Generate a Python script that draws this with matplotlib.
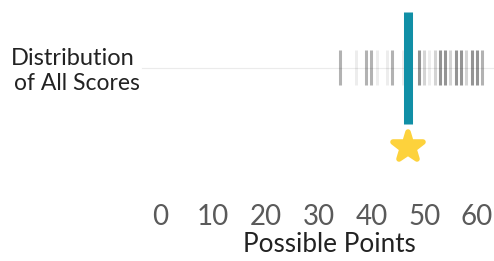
import matplotlib
matplotlib.use("Agg")
import matplotlib.pyplot as plt
from matplotlib.markers import MarkerStyle

# ---- data ----
scores = [34, 37, 39, 40, 41, 43, 44, 46, 49, 50, 51, 52, 53, 54, 55, 56, 57, 58, 59, 60, 61]
counts = [3, 1, 3, 3, 1, 1, 3, 1, 4, 2, 1, 2, 4, 4, 2, 4, 4, 2, 4, 4, 3]
my_score = 47
tick_values = [0, 10, 20, 30, 40, 50, 60]
row_label = ["Distribution", "of All Scores"]
x_label = "Possible Points"

plt.rcParams['font.family'] = ['Lato', 'DejaVu Sans']

W, H = 494, 261
fig = plt.figure(figsize=(W / 100, H / 100), dpi=100)
ax_bottom_px = 198
ax = fig.add_axes([0, (H - ax_bottom_px) / H, 1, ax_bottom_px / H])
ax.set_xlim(-30.47, 63.26)
ax.set_ylim(ax_bottom_px, 0)
for s in ax.spines.values():
    s.set_visible(False)
ax.set_yticks([])
ax.set_xticks(tick_values)
ax.set_xticklabels([str(v) for v in tick_values])
ax.tick_params(axis='x', length=0, pad=4, labelsize=20, labelcolor='#5a5a5a')

# baseline row line
ax.axhline(68, xmin=142 / W, xmax=1, color='#ebebeb', lw=0.8, zorder=0)

# distribution bars
alpha_map = {1: 0.07, 2: 0.17, 3: 0.30, 4: 0.42}
cols = [(0, 0, 0, alpha_map[c]) for c in counts]
ax.vlines(scores, 50, 85, colors=cols, lw=2.2, zorder=1)

# highlighted score
ax.vlines([my_score], 12, 124, colors='#118fa6', lw=6.5, zorder=2)
star = MarkerStyle('*', joinstyle='round')
ax.plot([my_score], [147], marker=star, ms=22, color='#fdd23c',
        mec='#fdd23c', mew=4, linestyle='none', zorder=3)

# row label
fig.text(73 / W, 1 - 58.5 / H, row_label[0], ha='center', va='center',
         fontsize=17, color='#222222')
fig.text(77 / W, 1 - 84 / H, row_label[1], ha='center', va='center',
         fontsize=16.5, color='#222222')

# x label
ax.set_xlabel(x_label, fontsize=18.8, color='#222222')
ax.xaxis.set_label_coords(329 / W, -34 / ax_bottom_px)

fig.savefig("out.png", dpi=100)
